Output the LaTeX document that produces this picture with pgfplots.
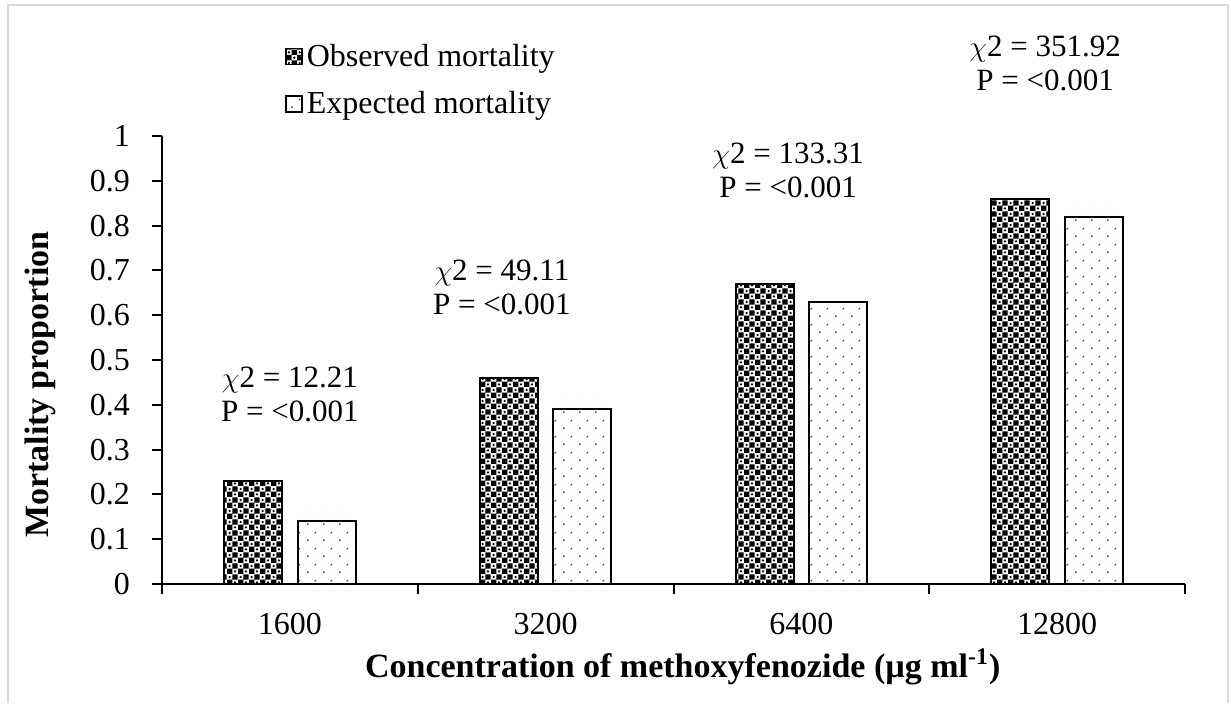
\documentclass[border=0pt]{standalone}
\usepackage{fontspec}
\setmainfont{Liberation Serif}
\usepackage{pgfplots}
\pgfplotsset{compat=1.18}
\usetikzlibrary{patterns}
\definecolor{dotblue}{RGB}{50,90,200}
\definecolor{framegray}{RGB}{217,217,217}
\pgfdeclarepatternformonly{obsp}{\pgfqpoint{0pt}{0pt}}{\pgfqpoint{5.4pt}{5.4pt}}{\pgfqpoint{5.4pt}{5.4pt}}{%
  \pgfpathrectangle{\pgfqpoint{0pt}{0pt}}{\pgfqpoint{2.7pt}{2.7pt}}%
  \pgfpathrectangle{\pgfqpoint{2.7pt}{2.7pt}}{\pgfqpoint{2.7pt}{2.7pt}}%
  \pgfpathcircle{\pgfqpoint{4.05pt}{1.35pt}}{0.65pt}%
  \pgfpathcircle{\pgfqpoint{1.35pt}{4.05pt}}{0.65pt}%
  \pgfusepath{fill}%
}
\pgfdeclarepatternformonly{expp}{\pgfqpoint{0pt}{0pt}}{\pgfqpoint{8pt}{8pt}}{\pgfqpoint{8pt}{8pt}}{%
  \pgfpathcircle{\pgfqpoint{2pt}{2pt}}{0.55pt}%
  \pgfpathcircle{\pgfqpoint{6pt}{6pt}}{0.55pt}%
  \pgfusepath{fill}%
}
\pgfplotsset{sqleg/.style={legend image code/.code={\draw[##1, line width=0.8pt] (0pt,-4pt) rectangle (8pt,4pt);}}}
\pgfplotstableread{
x obs exp
0 0.23 0.14
1 0.46 0.39
2 0.67 0.63
3 0.86 0.82
}\datatable
\begin{document}
\begin{tikzpicture}
\begin{axis}[
  at={(0,0)}, anchor=south west,
  scale only axis, width=511.5pt, height=224pt,
  xmin=-0.5, xmax=3.5, ymin=0, ymax=1,
  axis x line*=bottom, axis y line*=left,
  axis line style={line width=1pt, -},
  xtick={-0.5,0.5,1.5,2.5,3.5}, xticklabels={},
  extra x ticks={0,1,2,3},
  extra x tick labels={1600,3200,6400,12800},
  extra x tick style={major tick length=0pt, xticklabel style={yshift=-11pt}},
  ytick={0,0.1,0.2,0.3,0.4,0.5,0.6,0.7,0.8,0.9,1},
  yticklabel style={/pgf/number format/fixed, /pgf/number format/precision=1, xshift=-7.5pt},
  tick align=outside,
  major tick length=5pt,
  every tick/.style={black, line width=1pt},
  tick label style={font=\fontsize{16}{19}\selectfont},
  /pgf/number format/assume math mode=true,
  clip=false,
  ylabel={Mortality proportion},
  ylabel style={font=\bfseries\fontsize{17}{20}\selectfont, at={(axis description cs:-0.119,0.445)}, anchor=center},
  xlabel={Concentration of methoxyfenozide (µg ml\textsuperscript{-1})},
  xlabel style={font=\bfseries\fontsize{17}{20}\selectfont, at={(axis description cs:0.509,-0.185)}, anchor=center},
  legend style={at={(rel axis cs:0.12,1.215)}, anchor=north west, draw=none, fill=none,
    font=\fontsize{16}{19}\selectfont, row sep=7pt, inner sep=0pt, cells={anchor=west}},
]
\addplot[ybar, bar width=0.227, bar shift=-0.144, draw=black, line width=1pt, pattern=obsp, pattern color=black, sqleg]
  table[x=x, y=obs] {\datatable};
\addlegendentry{Observed mortality}
\addplot[ybar, bar width=0.227, bar shift=0.144, draw=black, line width=1pt, pattern=expp, pattern color=dotblue, sqleg]
  table[x=x, y=exp] {\datatable};
\addlegendentry{Expected mortality}
\node[align=center, font=\fontsize{15.5}{17}\selectfont] at (axis cs:0,0.424) {$\chi$2 = 12.21\\P = <0.001};
\node[align=center, font=\fontsize{15.5}{17}\selectfont] at (axis cs:0.829,0.661) {$\chi$2 = 49.11\\P = <0.001};
\node[align=center, font=\fontsize{15.5}{17}\selectfont] at (axis cs:1.948,0.922) {$\chi$2 = 133.31\\P = <0.001};
\node[align=center, font=\fontsize{15.5}{17}\selectfont] at (axis cs:2.953,1.163) {$\chi$2 = 351.92\\P = <0.001};
\end{axis}
\pgfresetboundingbox
\useasboundingbox (-81pt,-59.5pt) rectangle (534.5pt,292pt);
\draw[framegray, line width=0.8pt] (-77pt,-59.5pt) -- (-77pt,289.5pt) -- (533pt,289.5pt) -- (533pt,-59.5pt);
\end{tikzpicture}
\end{document}
